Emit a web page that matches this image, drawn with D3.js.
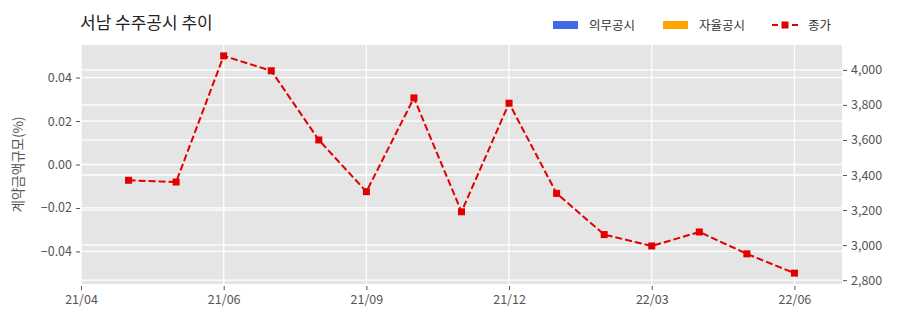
<!DOCTYPE html>
<html><head><meta charset="utf-8">
<script src="https://cdn.jsdelivr.net/npm/d3@7/dist/d3.min.js"></script>
<style>
body{margin:0;background:#fff;}
text{font-family:"Noto Sans CJK KR","Noto Sans",sans-serif;}
</style></head>
<body><svg id="c" width="900" height="323"></svg>
<script>
// data
const months = ["21/05","21/06","21/07","21/08","21/09","21/10","21/11","21/12","22/01","22/02","22/03","22/04","22/05","22/06","22/07"];
const monthIndex = [0,1,2,3,4,5,6,7,8,9,10,11,12,13,14];
const closePrice = [3370,3360,4080,3995,3600,3305,3840,3190,3810,3295,3060,2995,3075,2950,2840];
const xTickIndex = [-1,2,5,8,11,14];
const xTickLabels = ["21/04","21/06","21/09","21/12","22/03","22/06"];
const leftTicks = [-0.04,-0.02,0,0.02,0.04];
const rightTicks = [2800,3000,3200,3400,3600,3800,4000];
const legendLabels = ["의무공시","자율공시","종가"];
const title = "서남 수주공시 추이";
const yLabel = "계약금액규모(%)";

const svg = d3.select("#c");
const L = 81, R = 842, T = 45, B = 284;
const x = d3.scaleLinear().domain([-1, 15]).range([L, R]);
const yL = d3.scaleLinear().domain([-0.055, 0.055]).range([B, T]);
const mn = d3.min(closePrice), mx = d3.max(closePrice), pad = (mx - mn) * 0.05;
const yR = d3.scaleLinear().domain([mn - pad, mx + pad]).range([B, T]);

svg.append("rect").attr("x", L).attr("y", T).attr("width", R - L).attr("height", B - T).attr("fill", "#e5e5e5");

const grid = svg.append("g").attr("stroke", "#fff").attr("stroke-width", 1.3);
grid.selectAll(".gl").data(leftTicks).join("line")
  .attr("x1", L).attr("x2", R).attr("y1", d => yL(d)).attr("y2", d => yL(d));
grid.selectAll(".gr").data(rightTicks).join("line").attr("class","gr")
  .attr("x1", L).attr("x2", R).attr("y1", d => yR(d)).attr("y2", d => yR(d));
grid.selectAll(".gx").data(xTickIndex).join("line").attr("class","gx")
  .attr("y1", T).attr("y2", B).attr("x1", d => x(d)).attr("x2", d => x(d));

const fmtL = d => (d < 0 ? "\u2212" : "") + Math.abs(d).toFixed(2);
const axL = svg.append("g").attr("transform", `translate(${L - 1},0)`)
  .call(d3.axisLeft(yL).tickValues(leftTicks).tickFormat(fmtL).tickSize(4).tickPadding(4));
const axR = svg.append("g").attr("transform", `translate(${R + 1},0)`)
  .call(d3.axisRight(yR).tickValues(rightTicks).tickFormat(d3.format(",")).tickSize(4).tickPadding(4));
const axX = svg.append("g").attr("transform", `translate(0,${B + 2})`)
  .call(d3.axisBottom(x).tickValues(xTickIndex).tickFormat((d, i) => xTickLabels[i]).tickSize(4).tickPadding(5));
[axL, axR, axX].forEach(a => {
  a.select(".domain").remove();
  a.selectAll(".tick line").attr("stroke", "#555");
  a.selectAll(".tick text").attr("fill", "#555").style("font-size", "12.5px");
});

svg.append("text").attr("transform", `translate(23,${(T + B) / 2}) rotate(-90)`)
  .attr("text-anchor", "middle").attr("fill", "#555").style("font-size", "13.5px").text(yLabel);

const line = d3.line().x((d, i) => x(monthIndex[i])).y(d => yR(d));
svg.append("path").datum(closePrice).attr("d", line).attr("fill", "none")
  .attr("stroke", "#e00000").attr("stroke-width", 2).attr("stroke-dasharray", "7,3");
svg.selectAll(".pt").data(closePrice).join("rect").attr("class","pt")
  .attr("x", (d, i) => x(monthIndex[i]) - 3.5).attr("y", d => yR(d) - 3.5)
  .attr("width", 7).attr("height", 7).attr("fill", "#e00000");

svg.append("text").attr("x", 80).attr("y", 29).attr("fill", "#222").style("font-size", "17px").text(title);

const lg = svg.append("g");
lg.append("rect").attr("x", 553).attr("y", 21).attr("width", 25).attr("height", 8).attr("fill", "#4169e1");
lg.append("text").attr("x", 589).attr("y", 30).attr("fill", "#333").style("font-size", "12.5px").text(legendLabels[0]);
lg.append("rect").attr("x", 663).attr("y", 21).attr("width", 25).attr("height", 8).attr("fill", "#ffa500");
lg.append("text").attr("x", 699).attr("y", 30).attr("fill", "#333").style("font-size", "12.5px").text(legendLabels[1]);
lg.append("line").attr("x1", 772).attr("x2", 798).attr("y1", 25).attr("y2", 25)
  .attr("stroke", "#e00000").attr("stroke-width", 2).attr("stroke-dasharray", "6,4");
lg.append("rect").attr("x", 781.5).attr("y", 21.5).attr("width", 7).attr("height", 7).attr("fill", "#e00000");
lg.append("text").attr("x", 808).attr("y", 30).attr("fill", "#333").style("font-size", "12.5px").text(legendLabels[2]);
</script></body></html>
